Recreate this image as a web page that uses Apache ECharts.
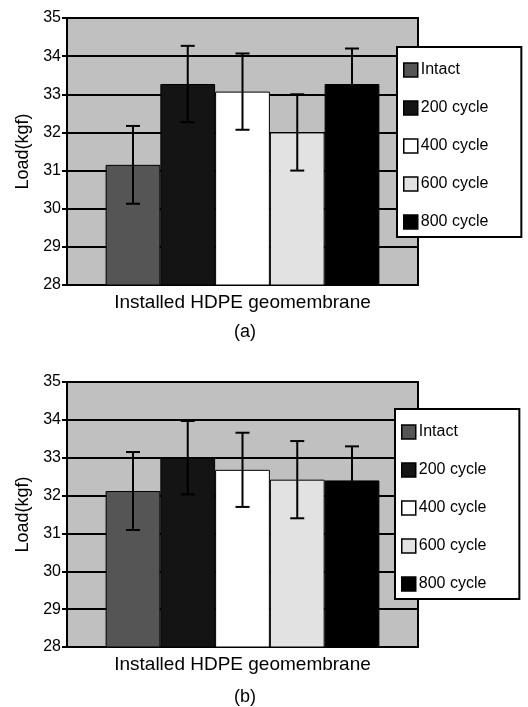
<!DOCTYPE html>
<html>
<head>
<meta charset="utf-8">
<script src="https://cdn.jsdelivr.net/npm/echarts@6/dist/echarts.min.js"></script>
<style>
  html, body { margin: 0; padding: 0; background: #fff; }
  #chart { width: 528px; height: 707px; }
</style>
</head>
<body>
<div id="chart"></div>
<script>
// series names (legend) and the single category
const seriesNames = ['Intact', '200 cycle', '400 cycle', '600 cycle', '800 cycle'];
const category = ['Installed HDPE geomembrane'];
const yTicks = [28, 29, 30, 31, 32, 33, 34, 35];

// (a) mean load and error half-width
const loadA = [31.15, 33.27, 33.07, 32.0, 33.27];
const errA = [1.02, 1.0, 1.0, 1.0, 0.93];
// (b)
const loadB = [32.12, 33.0, 32.68, 32.42, 32.4];
const errB = [1.03, 0.97, 0.98, 1.02, 0.9];

const barColors = ['#555555', '#141414', '#ffffff', '#e2e2e2', '#000000'];
const gapPct = 22; // barCategoryGap in %

const font = 'Liberation Sans, Arial, sans-serif';
const chart = echarts.init(document.getElementById('chart'));

function errorSeries(gridIdx, means, errs) {
  return {
    type: 'custom',
    xAxisIndex: gridIdx,
    yAxisIndex: gridIdx,
    z: 10,
    silent: true,
    data: means.map((m, i) => [0, m - errs[i], m + errs[i], i]),
    renderItem: function (params, api) {
      const band = api.size([1, 0])[0];
      const barW = band * (1 - gapPct / 100) / means.length;
      const center = api.coord([api.value(0), api.value(1)])[0];
      const x = center + (api.value(3) - (means.length - 1) / 2) * barW;
      const lo = api.coord([0, api.value(1)])[1];
      const hi = api.coord([0, api.value(2)])[1];
      const cap = 7;
      const st = { stroke: '#000', lineWidth: 2 };
      return {
        type: 'group',
        children: [
          { type: 'line', shape: { x1: x, y1: lo, x2: x, y2: hi }, style: st },
          { type: 'line', shape: { x1: x - cap, y1: lo, x2: x + cap, y2: lo }, style: st },
          { type: 'line', shape: { x1: x - cap, y1: hi, x2: x + cap, y2: hi }, style: st }
        ]
      };
    }
  };
}

function barSeries(gridIdx, means) {
  return seriesNames.map((name, i) => ({
    name: name,
    type: 'bar',
    xAxisIndex: gridIdx,
    yAxisIndex: gridIdx,
    barGap: '0%',
    barCategoryGap: gapPct + '%',
    itemStyle: { color: barColors[i], borderColor: '#000', borderWidth: 1 },
    data: [means[i]]
  }));
}

function xAxis(gridIdx) {
  return {
    type: 'category',
    gridIndex: gridIdx,
    data: category,
    name: category[0],
    nameLocation: 'middle',
    nameGap: 8,
    nameTextStyle: { fontFamily: font, fontSize: 19, color: '#000' },
    axisLine: { lineStyle: { color: '#000', width: 2 } },
    axisTick: { show: false },
    axisLabel: { show: false }
  };
}

function yAxis(gridIdx) {
  return {
    type: 'value',
    gridIndex: gridIdx,
    min: yTicks[0],
    max: yTicks[yTicks.length - 1],
    interval: 1,
    name: 'Load(kgf)',
    nameLocation: 'middle',
    nameGap: 35,
    nameTextStyle: { fontFamily: font, fontSize: 18, color: '#000' },
    axisLine: { show: true, lineStyle: { color: '#000', width: 2 } },
    axisTick: { show: true, length: 5, lineStyle: { color: '#000', width: 2 } },
    axisLabel: { fontFamily: font, fontSize: 16, color: '#000', margin: 6 },
    splitLine: { show: true, lineStyle: { color: '#000', width: 2 } }
  };
}

function legend(top, left) {
  return {
    orient: 'vertical',
    top: top,
    left: left,
    data: seriesNames,
    itemWidth: 14,
    itemHeight: 14,
    itemGap: 22,
    padding: [15, 33, 7, 6],
    backgroundColor: '#fff',
    borderColor: '#000',
    borderWidth: 2,
    borderRadius: 0,
    icon: 'rect',
    itemStyle: { borderColor: '#000', borderWidth: 1.5 },
    textStyle: { fontFamily: font, fontSize: 16, color: '#000', padding: [0, 0, 0, -2] }
  };
}

chart.setOption({
  animation: false,
  backgroundColor: '#fff',
  title: [
    { text: '(a)', left: 240, top: 318, textAlign: 'center',
      textStyle: { fontFamily: font, fontSize: 18, fontWeight: 'normal', color: '#000' } },
    { text: '(b)', left: 240, top: 683, textAlign: 'center',
      textStyle: { fontFamily: font, fontSize: 18, fontWeight: 'normal', color: '#000' } }
  ],
  grid: [
    { left: 67, top: 18, width: 351, height: 267, show: true,
      backgroundColor: '#c0c0c0', borderColor: '#000', borderWidth: 2 },
    { left: 67, top: 382, width: 351, height: 265, show: true,
      backgroundColor: '#c0c0c0', borderColor: '#000', borderWidth: 2 }
  ],
  legend: [legend(47, 397), legend(409, 395)],
  xAxis: [xAxis(0), xAxis(1)],
  yAxis: [yAxis(0), yAxis(1)],
  series: [].concat(
    barSeries(0, loadA),
    barSeries(1, loadB),
    [errorSeries(0, loadA, errA), errorSeries(1, loadB, errB)]
  )
});
</script>
</body>
</html>
